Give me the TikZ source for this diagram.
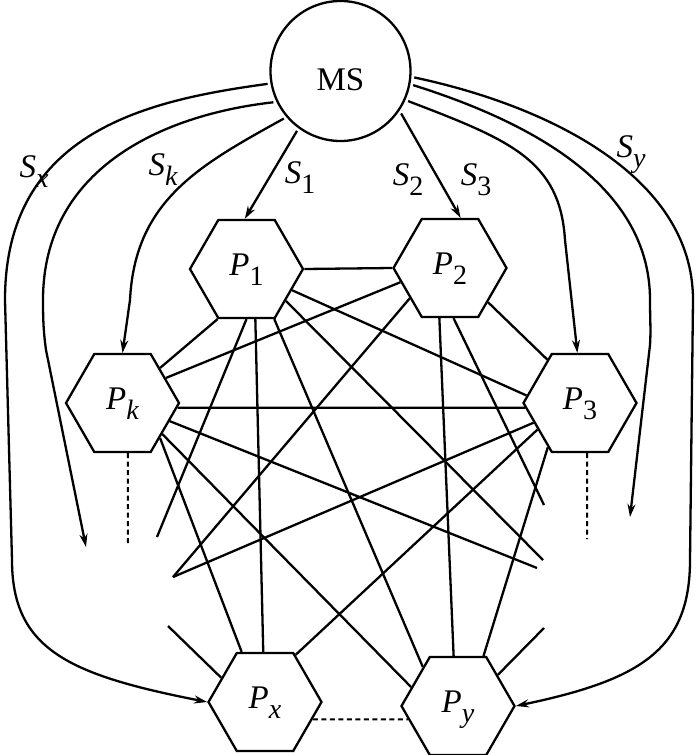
\documentclass[tikz,border=0pt]{standalone}
\usepackage{fontspec}
\setmainfont{Liberation Serif}
\usetikzlibrary{arrows.meta,shapes.geometric}
\newcommand{\sublbl}[2]{{\itshape #1}\raisebox{-10pt}{\fontsize{28pt}{28pt}\selectfont #2}}
\begin{document}
\begin{tikzpicture}[x=1pt,y=-1pt, line width=2.3pt,
  bigfont/.style={font=\fontsize{33pt}{33pt}\selectfont},
  hexnode/.style={draw, regular polygon, regular polygon sides=6, minimum size=113pt,
    inner sep=0pt, text height=22pt, text depth=10pt, bigfont},
  msnode/.style={draw, circle, minimum size=140pt, inner sep=0pt, outer sep=4pt,
    text height=38pt, text depth=0pt, bigfont},
  slabel/.style={anchor=base, inner sep=0pt, bigfont},
  link/.style={line width=2.3pt},
  dashlink/.style={line width=2pt, dash pattern=on 5pt off 3.5pt},
  sig/.style={line width=2.3pt, -{Stealth[length=13pt,width=8pt]}},
]
\useasboundingbox (0,0) rectangle (700,755);

% nodes
\node[msnode] (MS) at (340.5,71) {MS};
\node[hexnode] (P1) at (246.5,269) {\sublbl{P}{1}};
\node[hexnode] (P2) at (450,268) {\sublbl{P}{2}};
\node[hexnode] (Pk) at (122.5,403) {\sublbl{P}{{\itshape k}}};
\node[hexnode] (P3) at (580,403) {\sublbl{P}{3}};
\node[hexnode] (Px) at (265,702) {\sublbl{P}{{\itshape x}}};
\node[hexnode] (Py) at (458,706) {\sublbl{P}{{\itshape y}}};

% free ends
\coordinate (fa) at (157,537);
\coordinate (fb) at (543,560);
\coordinate (fv) at (173,577);
\coordinate (fd) at (537,568);
\coordinate (fe) at (544,505);
\coordinate (fg) at (544,628);
\coordinate (fh) at (168,626);
\coordinate (dk) at (128,543);
\coordinate (d3) at (587,539);
\coordinate (al) at (86,547);
\coordinate (ar) at (630,517);

% web of links
\draw[link] (P1.0) -- (P2.180);
\draw[link] (P1.-120) -- (Pk.43);
\draw[link] (P2.-164) -- (Pk.30);
\draw[link] (Pk.-5) -- (P3.185);
\draw[link] (P1.-25) -- (P3.172);
\draw[link] (P1.-90) -- (fa);
\draw[link] (P1.-80) -- (Px.92);
\draw[link] (P1.-61) -- (Py.132);
\draw[link] (P1.-39) -- (fb);
\draw[link] (P2.-143) -- (fv);
\draw[link] (P3.203) -- (fv);
\draw[link] (Pk.-21) -- (fd);
\draw[link] (Pk.-38) -- (Py.158);
\draw[link] (Pk.-43) -- (Px.115);
\draw[link] (P2.-102) -- (Py.95);
\draw[link] (P2.-86) -- (fe);
\draw[link] (P2.-42) -- (P3.127);
\draw[link] (P3.212) -- (Px.57);
\draw[link] (P3.234) -- (Py.63);
\draw[link] (fg) -- (Py.38);
\draw[link] (fh) -- (Px.151);

% dashed
\draw[dashlink] (Pk.-84) -- (dk);
\draw[dashlink] (P3.-82) -- (d3);
\draw[dashlink] (Px.-20) -- (Py.195);

% signal arrows from MS
\draw[sig] (MS.234.5) -- (P1.92);
\draw[sig] (MS.325) -- (P2.78);
\draw[sig] (MS.220) .. controls (200,165) and (135,200) .. (130,300) -- (Pk.90);
\draw[sig] (MS.205) .. controls (160,115) and (43,170) .. (43,300)
  .. controls (43,325) and (44,335) .. (46,350) -- (al);
\draw[sig] (MS.190) .. controls (150,100) and (5,130) .. (5,300) -- (12,560)
  .. controls (12,650) and (70,675) .. (Px.180);
\draw[sig] (MS.336) .. controls (510,140) and (560,160) .. (565,240) -- (P3.93);
\draw[sig] (MS.349) .. controls (540,125) and (650,190) .. (650,300)
  .. controls (650,320) and (651,330) .. (650,345) -- (ar);
\draw[sig] (MS.355) .. controls (545,105) and (693,175) .. (693,300) -- (690,560)
  .. controls (690,650) and (640,680) .. (Py.0);

% labels
\node[slabel] (Sxl) at (34,177) {\sublbl{S}{{\itshape x}}};
\node[slabel] (Skl) at (163,175) {\sublbl{S}{{\itshape k}}};
\node[slabel] (S1l) at (300,183) {\sublbl{S}{1}};
\node[slabel] (S2l) at (408,185) {\sublbl{S}{2}};
\node[slabel] (S3l) at (476,185) {\sublbl{S}{3}};
\node[slabel] (Syl) at (631,157) {\sublbl{S}{{\itshape y}}};
\end{tikzpicture}
\end{document}
